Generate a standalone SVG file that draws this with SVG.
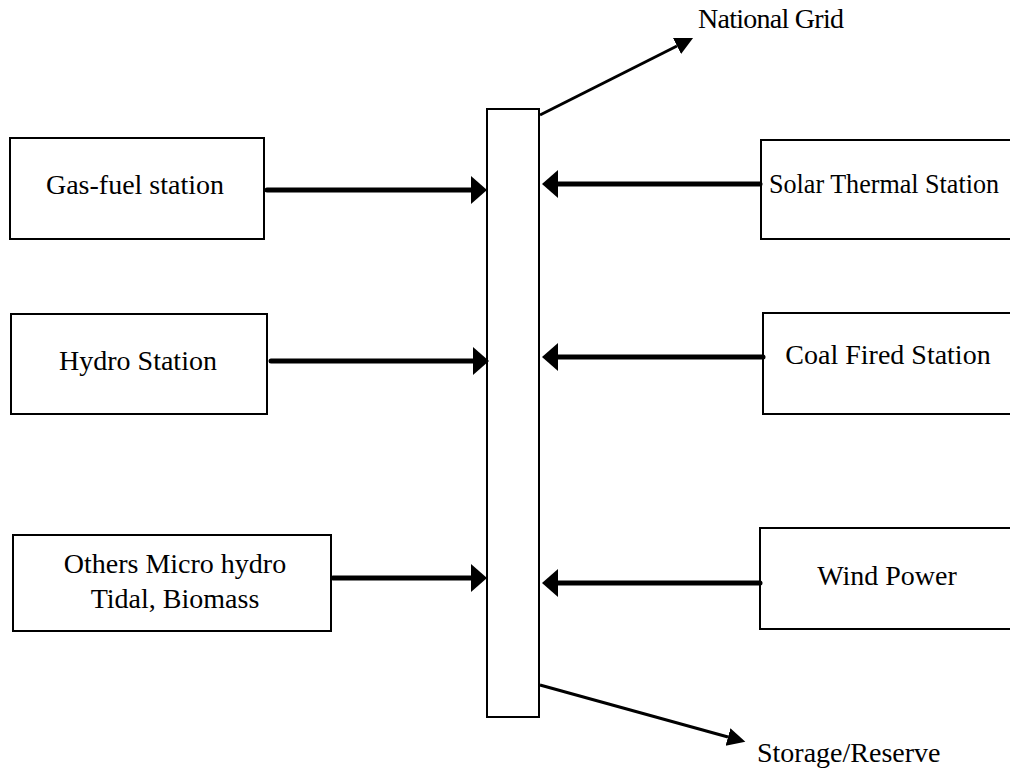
<svg xmlns="http://www.w3.org/2000/svg" width="1010" height="771" viewBox="0 0 1010 771">
<style>
.box{fill:#fff;stroke:#000;stroke-width:2}
.lbl{font-family:"Liberation Serif","Times New Roman",serif;font-size:28px;fill:#000}
.mid{text-anchor:middle}
.thick{stroke:#000;stroke-width:5;fill:none;stroke-linecap:round}
.thin{stroke:#000;stroke-width:3;fill:none}
</style>
<defs>
<marker id="bigHead" markerUnits="userSpaceOnUse" markerWidth="18" markerHeight="30" viewBox="0 -15 18 30" refX="0" refY="0" orient="auto">
<path d="M0,-14 L16,0 L0,14 Z" fill="#000"/>
</marker>
<marker id="smallHead" markerUnits="userSpaceOnUse" markerWidth="20" markerHeight="20" viewBox="0 -10 20 20" refX="0" refY="0" orient="auto">
<path d="M0,-9 L18,0 L0,9 Z" fill="#000"/>
</marker>
</defs>
<rect width="1010" height="771" fill="#fff"/>
<g id="bus"><rect class="box" x="487" y="109" width="52" height="608"/></g>
<g id="gas"><rect class="box" x="10" y="138" width="254" height="101"/><text class="lbl mid" x="135" y="194">Gas-fuel station</text></g>
<g id="hydro"><rect class="box" x="11" y="314" width="256" height="100"/><text class="lbl mid" x="138" y="370">Hydro Station</text></g>
<g id="others"><rect class="box" x="13" y="535" width="318" height="96"/><text class="lbl mid" x="175" y="573">Others Micro hydro</text><text class="lbl mid" x="175" y="608">Tidal, Biomass</text></g>
<g id="solar"><rect class="box" x="761" y="140" width="260" height="99"/><text class="lbl" x="769" y="193" textLength="230" lengthAdjust="spacingAndGlyphs">Solar Thermal Station</text></g>
<g id="coal"><rect class="box" x="763" y="313" width="260" height="101"/><text class="lbl mid" x="888" y="364">Coal Fired Station</text></g>
<g id="wind"><rect class="box" x="760" y="528" width="262" height="101"/><text class="lbl mid" x="887" y="585">Wind Power</text></g>
<g id="grid"><text class="lbl" x="698" y="28" textLength="146">National Grid</text></g>
<g id="storage"><text class="lbl" x="757" y="762">Storage/Reserve</text></g>
<g id="connectors">
<line class="thick" x1="267" y1="190" x2="471" y2="190" marker-end="url(#bigHead)"/>
<line class="thick" x1="271" y1="361" x2="473" y2="361" marker-end="url(#bigHead)"/>
<line class="thick" x1="333" y1="578" x2="471" y2="578" marker-end="url(#bigHead)"/>
<line class="thick" x1="760" y1="184" x2="558" y2="184" marker-end="url(#bigHead)"/>
<line class="thick" x1="763" y1="357" x2="558" y2="357" marker-end="url(#bigHead)"/>
<line class="thick" x1="760" y1="583" x2="558" y2="583" marker-end="url(#bigHead)"/>
<line class="thin" x1="540" y1="115" x2="677" y2="46" marker-end="url(#smallHead)"/>
<line class="thin" x1="540" y1="685" x2="728" y2="737" marker-end="url(#smallHead)"/>
</g>
</svg>
